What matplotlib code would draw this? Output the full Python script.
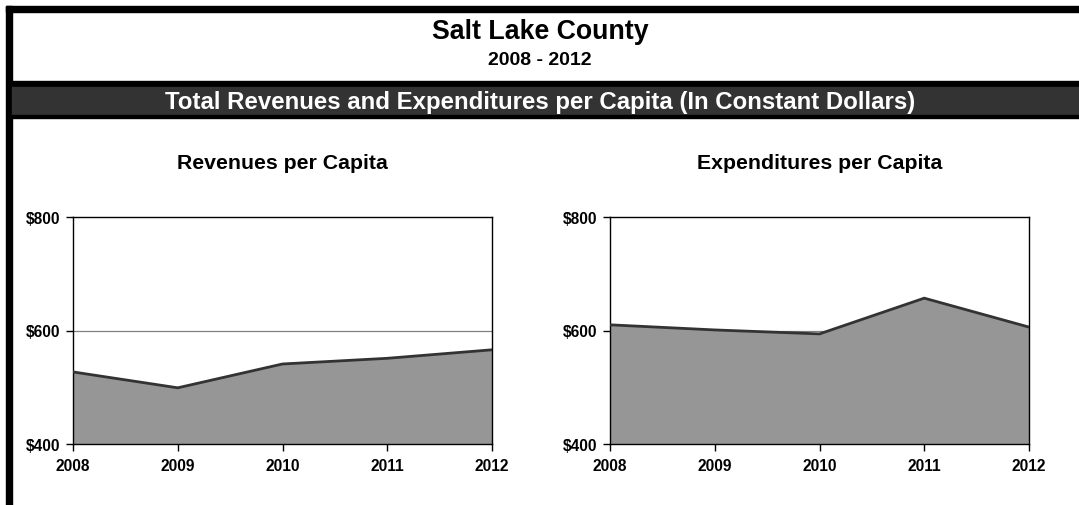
import matplotlib
matplotlib.use("Agg")
import matplotlib.pyplot as plt
from matplotlib.patches import Rectangle

plt.rcParams['font.family'] = ['Liberation Sans', 'DejaVu Sans']
plt.rcParams['font.weight'] = 'bold'

# data
years = [2008, 2009, 2010, 2011, 2012]
revenues = [527, 499, 541, 551, 566]
expenditures = [610, 601, 594, 657, 606]
y_ticks = [400, 600, 800]
y_labels = ['$400', '$600', '$800']

W, H = 1079, 506
fig = plt.figure(figsize=(W / 100, H / 100), dpi=100)

# background frame / header bands, drawn in pixel coords
bg = fig.add_axes([0, 0, 1, 1])
bg.set_xlim(0, W)
bg.set_ylim(H, 0)
bg.axis('off')
bg.add_patch(Rectangle((6, 7), W - 6, 6, color='black'))      # top border
bg.add_patch(Rectangle((6, 7), 6, H - 7, color='black'))      # left border
bg.add_patch(Rectangle((12, 82), W - 12, 6, color='black'))
bg.add_patch(Rectangle((12, 88), W - 12, 28, color='#333333'))
bg.add_patch(Rectangle((12, 116), W - 12, 3, color='black'))

bg.text(540, 32, 'Salt Lake County', ha='center', va='center', fontsize=19.3, fontweight='bold')
bg.text(540, 60, '2008 - 2012', ha='center', va='center', fontsize=14, fontweight='bold')
bg.text(540, 102, 'Total Revenues and Expenditures per Capita (In Constant Dollars)',
        ha='center', va='center', fontsize=17.3, fontweight='bold', color='white')


def area_panel(x0, title, values):
    ax = fig.add_axes([x0 / W, (H - 445) / H, 419 / W, 227 / H])
    ax.set_xlim(years[0], years[-1])
    ax.set_ylim(400, 800)
    ax.axhline(600, color='#808080', lw=0.9, zorder=1)
    ax.fill_between(years, 400, values, color='#969696', lw=0, zorder=2)
    ax.plot(years, values, color='#333333', lw=2, zorder=3, solid_joinstyle='miter')
    ax.set_xticks(years)
    ax.set_xticklabels([str(y) for y in years], fontsize=11.2, fontweight='bold')
    ax.set_yticks(y_ticks)
    ax.set_yticklabels(y_labels, fontsize=11.2, fontweight='bold')
    ax.tick_params(length=5, width=1, color='black', pad=4)
    ax.tick_params(axis='x', pad=5)
    for s in ax.spines.values():
        s.set_color('black')
        s.set_linewidth(1)
    bg.text(x0 + 419 / 2, 163, title, ha='center', va='center', fontsize=15.3, fontweight='bold')
    return ax


area_panel(73, 'Revenues per Capita', revenues)
area_panel(610, 'Expenditures per Capita', expenditures)

fig.savefig('out.png', dpi=100)
